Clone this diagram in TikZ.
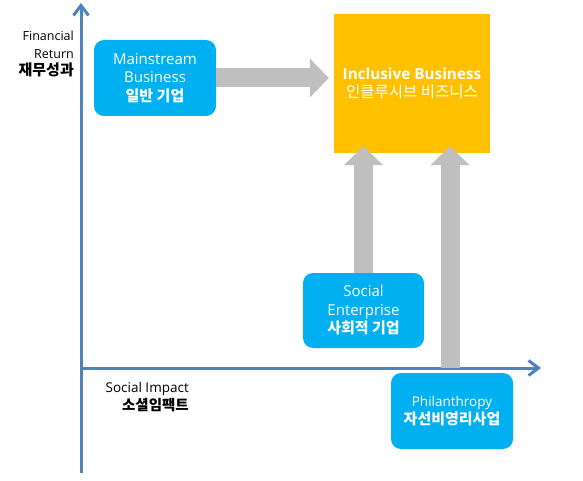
\documentclass[tikz,border=0pt]{standalone}
\usepackage{fontspec}
\setmainfont{Open Sans}
\newfontfamily\kr{Noto Sans CJK KR}
\usetikzlibrary{arrows.meta}
\definecolor{boxblue}{HTML}{00B0F0}
\definecolor{boxgold}{HTML}{FFC000}
\definecolor{arrgray}{HTML}{BFBFBF}
\definecolor{axisblue}{HTML}{4F81BD}
\tikzset{
  bluebox/.style={fill=boxblue, rounded corners=10pt, minimum width=122pt, minimum height=76pt, inner sep=0pt, align=center, text=white},
  goldbox/.style={fill=boxgold, minimum width=156pt, minimum height=139pt, inner sep=0pt, align=center, text=white},
  garrow/.style={draw=arrgray, line width=19pt, -{Triangle[length=19pt, width=38pt, fill=arrgray]}},
  axisline/.style={draw=axisblue, line width=3pt, -{Straight Barb[length=10pt, width=15pt, line width=3pt]}},
  axlabel/.style={inner sep=0pt, align=right, text=black},
}
\newcommand{\krb}{\kr\bfseries\fontsize{15}{18.5}\selectfont}
\begin{document}
\begin{tikzpicture}[x=1pt, y=-1pt]
\useasboundingbox (0,0) rectangle (583,481);
% axes
\coordinate (origin) at (81,368);
\coordinate (ytop) at (81,3);
\coordinate (ybot) at (81,473);
\coordinate (xend) at (541,368);
\draw[axisline] (ybot) -- (ytop);
\draw[axisline] (origin) -- (xend);
% boxes
\node[bluebox, font=\fontsize{15}{18.5}\selectfont] (main) at (155,78) {Mainstream\\ Business\\ {\krb 일반 기업}};
\node[goldbox, font=\fontsize{15.3}{18}\selectfont] (incl) at (412,83.5) {{\bfseries Inclusive Business}\\ {\kr\fontsize{15.5}{18}\selectfont 인클루시브 비즈니스}};
\node[bluebox, minimum width=121pt, minimum height=75pt, font=\fontsize{15}{18.5}\selectfont] (se) at (363.5,310.5) {Social\\ Enterprise\\ {\krb 사회적 기업}};
\node[bluebox, font=\fontsize{13.5}{18}\selectfont] (phil) at (452,411) {Philanthropy\\ {\krb 자선비영리사업}};
% gray arrows
\coordinate (philtop) at (450,368);
\draw[garrow] (main.east) -- ([xshift=-5pt]incl.west |- main.east);
\draw[garrow] (se.north) -- ([yshift=7pt]se.north |- incl.south);
\draw[garrow] (philtop) -- ([yshift=7pt]philtop |- incl.south);
% axis labels
\node[axlabel, anchor=east, font=\fontsize{12.5}{17.5}\selectfont] (fin) at (74,54) {Financial\\ Return\\ {\kr\bfseries\fontsize{15}{17.5}\selectfont 재무성과}};
\node[axlabel, anchor=east, font=\fontsize{13.5}{17.5}\selectfont] (soc) at (189,397) {Social Impact\\ {\kr\bfseries\fontsize{14.5}{17.5}\selectfont 소셜임팩트}};
\end{tikzpicture}
\end{document}
